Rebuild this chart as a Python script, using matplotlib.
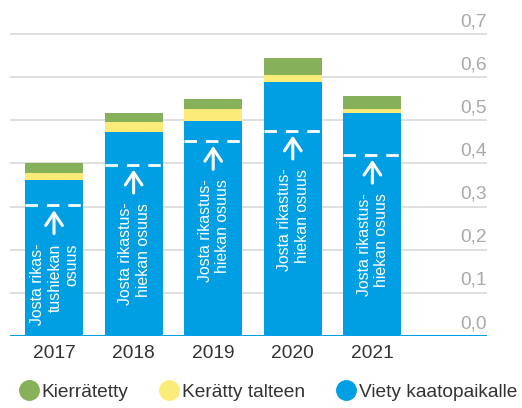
import matplotlib.pyplot as plt
from matplotlib.lines import Line2D

plt.rcParams['font.family'] = ['Liberation Sans', 'DejaVu Sans']

years = ['2017', '2018', '2019', '2020', '2021']
viety = [0.362, 0.473, 0.499, 0.589, 0.517]
keratty = [0.017, 0.024, 0.028, 0.015, 0.010]
kierratetty = [0.022, 0.020, 0.023, 0.041, 0.030]
rikastus = [0.303, 0.397, 0.452, 0.476, 0.420]
notes = ['Josta rikas-\ntushiekan\nosuus', 'Josta rikastus-\nhiekan osuus',
         'Josta rikastus-\nhiekan osuus', 'Josta rikastus-\nhiekan osuus',
         'Josta rikastus-\nhiekan osuus']
yticks = [0.0, 0.1, 0.2, 0.3, 0.4, 0.5, 0.6, 0.7]
series_names = ['Kierrätetty', 'Kerätty talteen', 'Viety kaatopaikalle']

c_blue = '#009FE3'
c_yellow = '#FBEC7A'
c_green = '#87B05A'
fs = 13.8

fig = plt.figure(figsize=(5.22, 4.08), dpi=100)
ax = fig.add_axes([10 / 522, 72 / 408, 477 / 522, 336 / 408])
ax.set_xlim(-0.553, 5.44)
ax.set_ylim(0, 0.7789)
ax.axis('off')

x = list(range(len(years)))
w = 0.729

for t in yticks[1:]:
    ax.axhline(t, color='#d9d9d9', lw=1.2, zorder=0)
ax.axhline(0, color=c_blue, lw=2.2, zorder=3)

ax.bar(x, viety, w, color=c_blue, zorder=2)
bottom2 = [a + b for a, b in zip(viety, keratty)]
ax.bar(x, keratty, w, bottom=viety, color=c_yellow, zorder=2)
ax.bar(x, kierratetty, w, bottom=bottom2, color=c_green, zorder=2)

for i, v in enumerate(rikastus):
    ax.plot([i - w / 2, i + w / 2], [v, v], color='white', lw=2,
            dashes=(4.5, 3.2), zorder=4)
    ax.annotate('', xy=(i, v - 0.005), xytext=(i, v - 0.072),
                arrowprops=dict(arrowstyle='->,head_length=0.9,head_width=0.6',
                                color='white', lw=2.2), zorder=4)
    ax.text(i + 0.01, v - 0.088, notes[i], rotation=90, ha='center', va='top',
            multialignment='right', color='white', fontsize=11.4,
            linespacing=1.2, zorder=5)

for t in yticks:
    ax.text(1.0, t + 0.009, f'{t:.1f}'.replace('.', ','),
            transform=ax.get_yaxis_transform(), ha='right', va='bottom',
            color='#a9a9a9', fontsize=fs)

for i, yr in enumerate(years):
    ax.text(i, -0.02, yr, ha='center', va='top', color='#333333',
            fontsize=fs, clip_on=False)

handles = [Line2D([], [], marker='o', ls='', markersize=14, color=c)
           for c in (c_green, c_yellow, c_blue)]
fig.legend(handles, series_names, loc='center', bbox_to_anchor=(0.512, 16 / 408),
           ncol=3, frameon=False, fontsize=fs, handletextpad=0.05,
           columnspacing=1.55, handlelength=1.2, labelcolor='#333333')

fig.savefig('out.png', dpi=100)
